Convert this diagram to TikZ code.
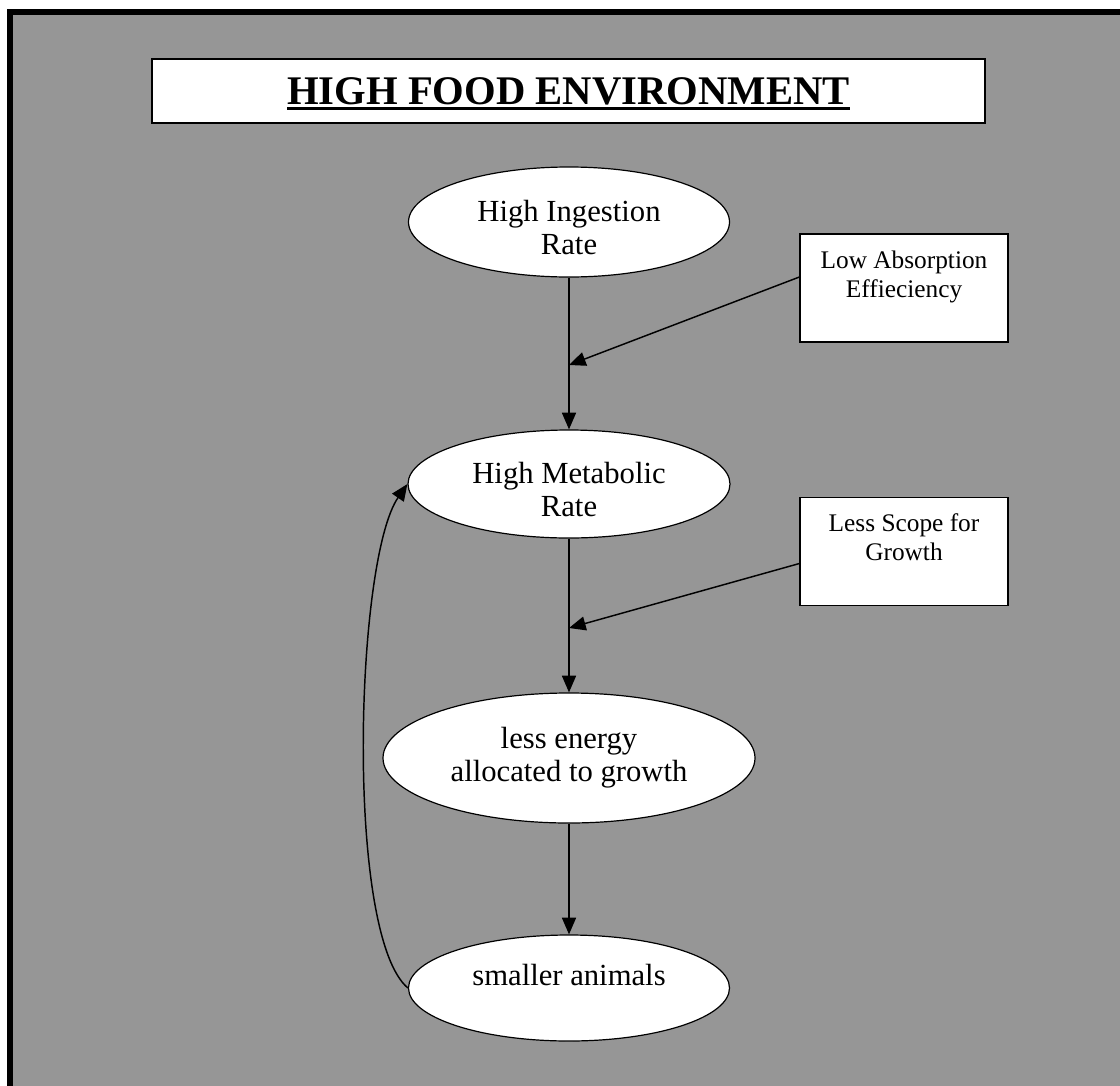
\documentclass[tikz,border=0pt]{standalone}
\usepackage{fontspec}
\setmainfont{Liberation Serif}
\usetikzlibrary{arrows.meta,shapes.geometric,calc}
\definecolor{panel}{RGB}{150,150,150}
% heavy underline for the heading
\newsavebox{\hdbox}
\newcommand{\heavyul}[1]{\sbox{\hdbox}{#1}\leavevmode
  \rlap{\usebox{\hdbox}}\rule[-4.6pt]{\wd\hdbox}{2.7pt}}
% extra head room on a first line
\newcommand{\toproom}[1]{\rule{0pt}{#1}}
\begin{document}
\begin{tikzpicture}[x=0.75pt,y=-0.75pt,
  oval/.style={ellipse,draw=black,line width=0.9pt,fill=white,inner sep=0pt,
    align=center,font=\fontsize{23}{24.75}\selectfont},
  note/.style={rectangle,draw=black,line width=0.9pt,fill=white,inner sep=0pt,
    align=center,font=\fontsize{19}{22}\selectfont,
    minimum width=156pt,minimum height=81pt},
  heading/.style={rectangle,draw=black,line width=1.2pt,fill=white,
    minimum width=624.75pt,minimum height=48pt,text height=19.5pt,text depth=0pt,
    font=\bfseries\fontsize{30.5}{32}\selectfont},
  link/.style={line width=1.1pt,-{Triangle[length=12.5pt,width=10.5pt]}}]
\useasboundingbox (0,0) rectangle (1120,1085);
\fill[white] (0,0) rectangle (1120,1085);
% grey panel with heavy frame
\begin{scope}
  \clip (0,0) rectangle (1120,1085);
  \draw[line width=4.5pt,fill=panel] (10,12) rectangle (1140,1110);
\end{scope}

% heading
\node[heading] (title) at (568.5,91) {\heavyul{HIGH FOOD ENVIRONMENT}};

% main chain
\node[oval,minimum width=240.75pt,minimum height=82.5pt] (ingest) at (569,222)
  {\toproom{23.5pt}High Ingestion\\Rate};
\node[oval,minimum width=241.5pt,minimum height=81pt] (metab) at (569,484)
  {\toproom{23.5pt}High Metabolic\\Rate};
\node[oval,minimum width=279pt,minimum height=97.5pt] (energy) at (569,758)
  {less energy\\allocated to growth};
\node[oval,minimum width=240.75pt,minimum height=79.5pt] (small) at (569,988)
  {smaller animals\\[-12pt]\strut};

% side notes
\node[note] (absorb) at (904,288) {\toproom{21pt}Low Absorption\\Effieciency\\\strut};
\node[note] (scope) at (904,551.5) {\toproom{20pt}Less Scope for\\Growth\\\strut};

% junction points on the vertical flow
\coordinate (j1) at (569,365);
\coordinate (j2) at (569,628);

% connectors
\draw[link] (ingest.south) -- (metab.north);
\draw[link] (metab.south) -- (energy.north);
\draw[link] (energy.south) -- (small.north);
\draw[link] ($(absorb.west)+(0,-11)$) -- (j1);
\draw[link] ($(scope.west)+(0,12)$) -- (j2);
\draw[link] (small.west) .. controls (345,935) and (355,560) .. (metab.west);
\end{tikzpicture}
\end{document}
